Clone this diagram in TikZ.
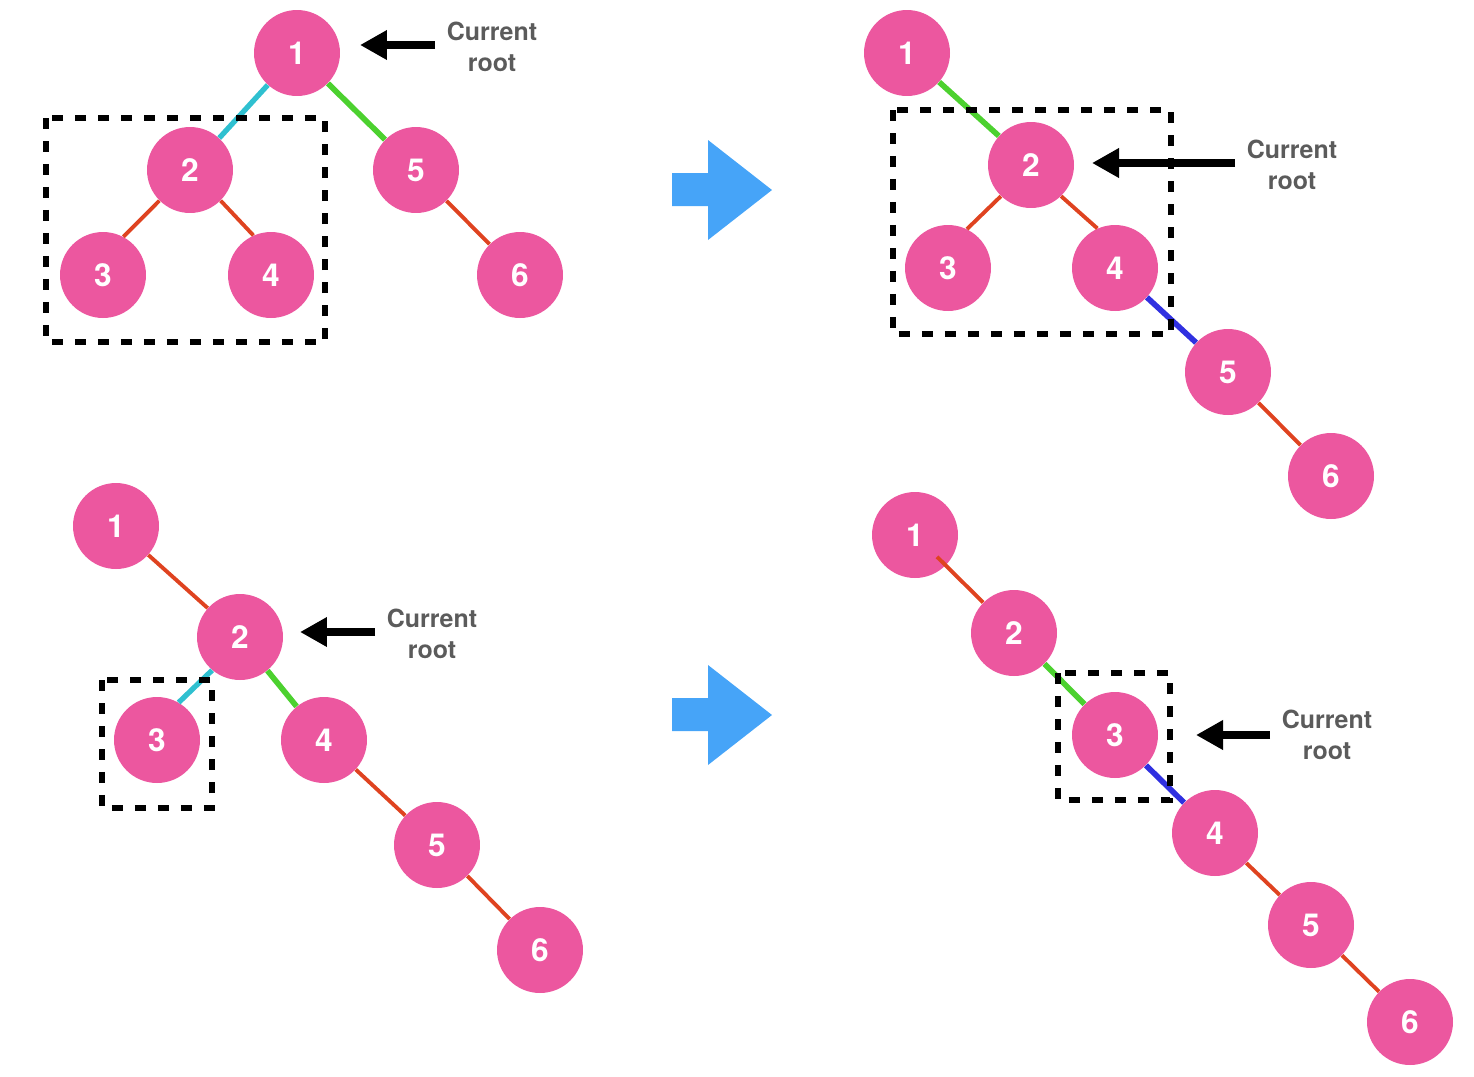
\documentclass[tikz,border=0pt]{standalone}
\usepackage{fontspec}
\setmainfont{TeX Gyre Heros}
\usetikzlibrary{arrows.meta}
\definecolor{nodepink}{HTML}{EC579F}
\definecolor{labelgrey}{HTML}{5B5B5B}
\definecolor{edgecyan}{HTML}{2FC0D0}
\definecolor{edgegreen}{HTML}{4CD12F}
\definecolor{edgered}{HTML}{DF4320}
\definecolor{edgeblue}{HTML}{3030E0}
\definecolor{stepblue}{HTML}{46A4F8}
\begin{document}
\begin{tikzpicture}[x=0.02cm,y=-0.02cm,
  vtx/.style={circle,fill=nodepink,minimum size=1.72cm,inner sep=0pt,text=white,font=\fontsize{18}{18}\selectfont\bfseries},
  lbl/.style={align=center,text=labelgrey,font=\fontsize{14.2}{17.6}\selectfont\bfseries},
  cyanedge/.style={edgecyan,line width=3pt},
  greenedge/.style={edgegreen,line width=3.2pt},
  rededge/.style={edgered,line width=2.2pt},
  blueedge/.style={edgeblue,line width=3.2pt},
  pointer/.style={line width=4.2pt,-{Triangle[length=0.54cm,width=0.56cm]}},
  subtree/.style={line width=3.8pt,dash pattern=on 0.22cm off 0.24cm}]
\useasboundingbox (0,0) rectangle (1474,1076);

% top left:
\node[vtx] (a1) at (297,53) {1};
\node[vtx] (a2) at (190,170) {2};
\node[vtx] (a3) at (103,275) {3};
\node[vtx] (a4) at (271,275) {4};
\node[vtx] (a5) at (416,170) {5};
\node[vtx] (a6) at (520,275) {6};
\draw[cyanedge] (a1) -- (a2);
\draw[greenedge] (a1) -- (a5);
\draw[rededge] (a2.225) -- (a3.62);
\draw[rededge] (a2.-45) -- (a4.114);
\draw[rededge] (a5) -- (a6);
\node[lbl] (alb) at (492,47) {Current\\root};
\coordinate (atail) at (435,45);
\coordinate (atip) at (360,45);
\draw[pointer] (atail) -- (atip);
\draw[subtree] (46,118) rectangle (325,342);

% top right:
\node[vtx] (b1) at (907,53) {1};
\node[vtx] (b2) at (1031,165) {2};
\node[vtx] (b3) at (948,268) {3};
\node[vtx] (b4) at (1115,268) {4};
\node[vtx] (b5) at (1228,372) {5};
\node[vtx] (b6) at (1331,476) {6};
\draw[greenedge] (b1) -- (b2);
\draw[rededge] (b2.226) -- (b3.64);
\draw[rededge] (b2.-46) -- (b4.114);
\draw[blueedge] (b4) -- (b5);
\draw[rededge] (b5) -- (b6);
\node[lbl] (blb) at (1292,165) {Current\\root};
\coordinate (btail) at (1235,163);
\coordinate (btip) at (1092,163);
\draw[pointer] (btail) -- (btip);
\draw[subtree] (893,110) rectangle (1171,334);

% bottom left:
\node[vtx] (c1) at (116,526) {1};
\node[vtx] (c2) at (240,637) {2};
\node[vtx] (c3) at (157,740) {3};
\node[vtx] (c4) at (324,740) {4};
\node[vtx] (c5) at (437,845) {5};
\node[vtx] (c6) at (540,950) {6};
\draw[rededge] (c1) -- (c2);
\draw[cyanedge] (c2.230) -- (c3.60);
\draw[greenedge] (c2) -- (c4);
\draw[rededge] (c4) -- (c5);
\draw[rededge] (c5) -- (c6);
\node[lbl] (clb) at (432,634) {Current\\root};
\coordinate (ctail) at (375,632);
\coordinate (ctip) at (300,632);
\draw[pointer] (ctail) -- (ctip);
\draw[subtree] (102,680) rectangle (212,808);

% bottom right:
\node[vtx] (d1) at (915,535) {1};
\node[vtx] (d2) at (1014,633) {2};
\node[vtx] (d3) at (1115,735) {3};
\node[vtx] (d4) at (1215,833) {4};
\node[vtx] (d5) at (1311,925) {5};
\node[vtx] (d6) at (1410,1022) {6};
\draw[rededge,shorten <=0.62cm] (d1.center) -- (d2);
\draw[greenedge] (d2) -- (d3);
\draw[blueedge] (d3) -- (d4);
\draw[rededge] (d4) -- (d5);
\draw[rededge] (d5) -- (d6);
\node[lbl] (dlb) at (1327,735) {Current\\root};
\coordinate (dtail) at (1270,735);
\coordinate (dtip) at (1196,735);
\draw[pointer] (dtail) -- (dtip);
\draw[subtree] (1058,673) rectangle (1170,800);

% steps:
\fill[stepblue] (672,173) -- (708,173) -- (708,140) -- (772,190) -- (708,240) -- (708,206) -- (672,206) -- cycle;
\fill[stepblue] (672,698) -- (708,698) -- (708,665) -- (772,715) -- (708,765) -- (708,731) -- (672,731) -- cycle;
\end{tikzpicture}
\end{document}
